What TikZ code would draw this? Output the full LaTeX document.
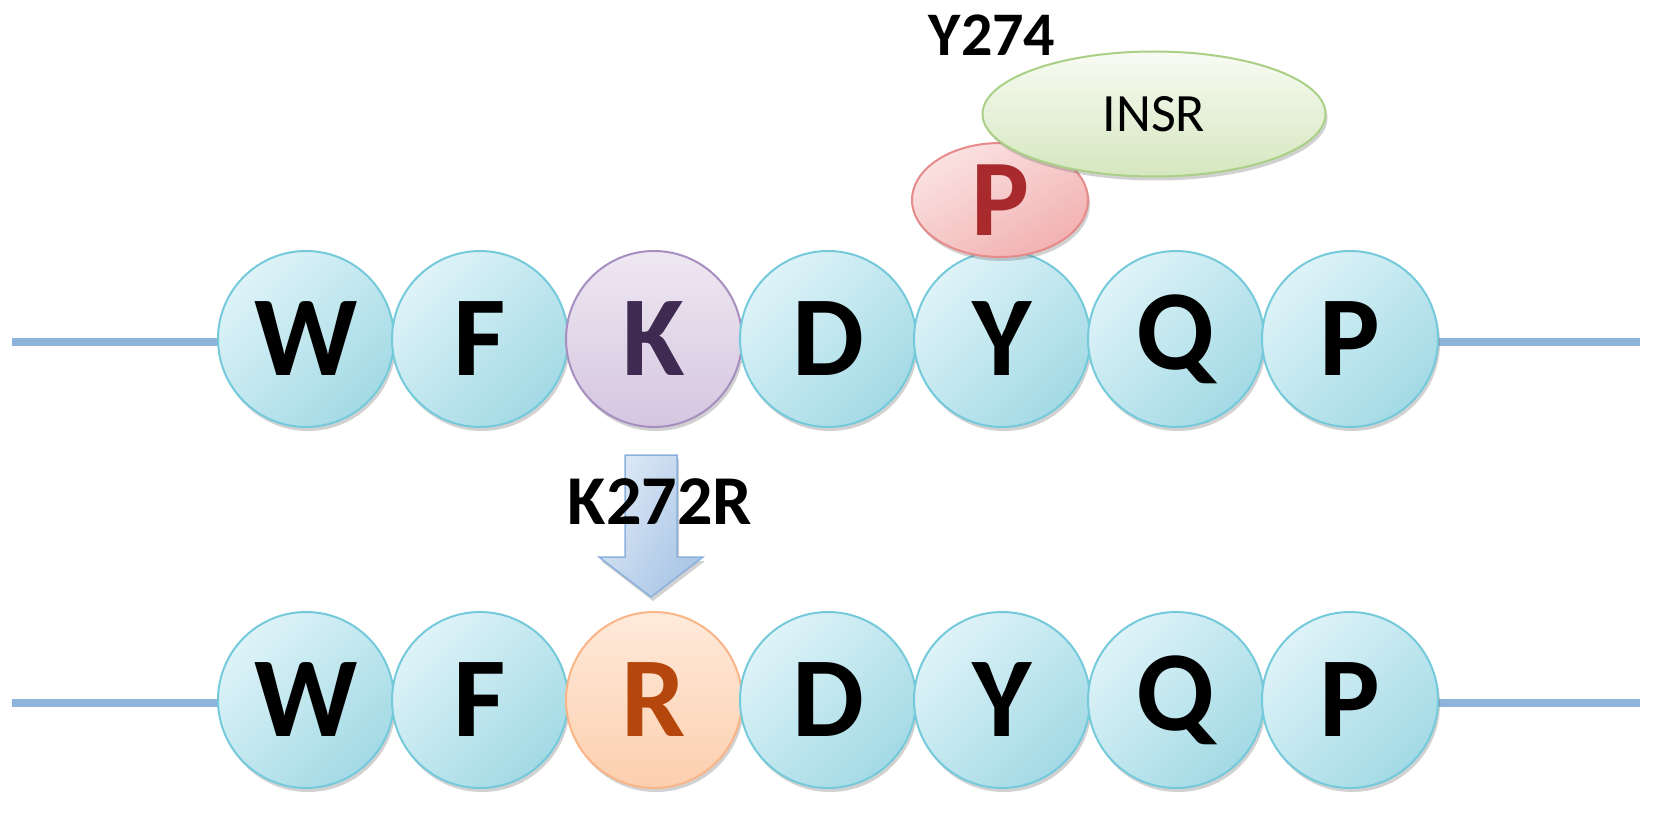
\documentclass[tikz,border=0pt]{standalone}
\usepackage{fontspec}
\setmainfont{Carlito}
\usetikzlibrary{shadows,shapes.geometric}
\definecolor{cyanL}{HTML}{DEF3F8}
\definecolor{cyanD}{HTML}{A3DAE5}
\definecolor{cyanB}{HTML}{74CADB}
\definecolor{purL}{HTML}{EEE8F2}
\definecolor{purD}{HTML}{D5C6E0}
\definecolor{purB}{HTML}{A68EC0}
\definecolor{purT}{HTML}{3F2A52}
\definecolor{orgL}{HTML}{FFEADB}
\definecolor{orgD}{HTML}{FCCFAE}
\definecolor{orgB}{HTML}{F9B487}
\definecolor{orgT}{HTML}{B5470C}
\definecolor{redL}{HTML}{FBE2E2}
\definecolor{redD}{HTML}{F2B1B1}
\definecolor{redB}{HTML}{E68A8A}
\definecolor{redT}{HTML}{A82A2C}
\definecolor{grnL}{HTML}{F8FBF3}
\definecolor{grnD}{HTML}{D5E7BF}
\definecolor{grnB}{HTML}{AACF86}
\definecolor{lineC}{HTML}{8DB4DA}
\definecolor{arrL}{HTML}{DCE8F5}
\definecolor{arrD}{HTML}{A9C5E6}
\definecolor{arrB}{HTML}{8AB1DE}
\newcommand{\aalow}[1]{\raisebox{-5pt}{#1}}
\begin{document}
\begin{tikzpicture}[x=1pt,y=-1pt,
  shadowed/.style={drop shadow={shadow xshift=2pt, shadow yshift=-4pt, opacity=0.3, fill=black!60}},
  aa/.style={circle, minimum size=176pt, inner sep=0pt, line width=2pt,
    draw=cyanB, top color=cyanL, bottom color=cyanD, shading angle=45,
    font=\fontsize{114}{114}\selectfont\bfseries, text=black, shadowed},
  aaK/.style={aa, draw=purB, top color=purL, bottom color=purD, text=purT},
  aaR/.style={aa, draw=orgB, top color=orgL, bottom color=orgD, text=orgT},
  chain/.style={draw=lineC, line width=8pt},
  lbl/.style={font=\fontsize{66}{66}\selectfont\bfseries, text=black, inner sep=0pt}
]
\useasboundingbox (0,0) rectangle (1653,821);

% chain lines
\coordinate (l1a) at (12,342);
\coordinate (l1b) at (1640,342);
\coordinate (l2a) at (12,703);
\coordinate (l2b) at (1640,703);
\draw[chain] (l1a) -- (l1b);
\draw[chain] (l2a) -- (l2b);

% top row
\node[aa]  (tW) at (306,339)   {\aalow{W}};
\node[aa]  (tF) at (480,339)   {\aalow{F}};
\node[aaK] (tK) at (654,339)   {\aalow{K}};
\node[aa]  (tD) at (828,339)   {\aalow{D}};
\node[aa]  (tY) at (1002,339)  {\aalow{Y}};
\node[aa]  (tQ) at (1176,339)  {\aalow{Q}};
\node[aa]  (tP) at (1350,339)  {\aalow{P}};

% bottom row
\node[aa]  (bW) at (306,700)   {\aalow{W}};
\node[aa]  (bF) at (480,700)   {\aalow{F}};
\node[aaR] (bR) at (654,700)   {\aalow{R}};
\node[aa]  (bD) at (828,700)   {\aalow{D}};
\node[aa]  (bY) at (1002,700)  {\aalow{Y}};
\node[aa]  (bQ) at (1176,700)  {\aalow{Q}};
\node[aa]  (bP) at (1350,700)  {\aalow{P}};

% block arrow K -> R
\coordinate (aTop) at (651,455);
\draw[draw=arrB, line width=1.5pt, top color=arrL, bottom color=arrD, shading angle=60, shadowed]
  ([xshift=-26pt]aTop) -- ([xshift=26pt]aTop) -- ([xshift=26pt,yshift=-102pt]aTop)
  -- ([xshift=52pt,yshift=-102pt]aTop) -- ([yshift=-142pt]aTop)
  -- ([xshift=-52pt,yshift=-102pt]aTop) -- ([xshift=-26pt,yshift=-102pt]aTop) -- cycle;
\node[lbl, font=\fontsize{70}{70}\selectfont\bfseries] (k272r) at (660,502) {K272R};

% phosphate
\node[ellipse, minimum width=176pt, minimum height=114pt, inner sep=0pt, line width=2pt,
  draw=redB, top color=redL, bottom color=redD, shading angle=30, shadowed,
  font=\fontsize{109}{109}\selectfont\bfseries, text=redT] (phos) at (1000,200) {\raisebox{-5pt}{P}};

% INSR
\node[ellipse, minimum width=343pt, minimum height=125pt, inner sep=0pt, line width=2pt,
  draw=grnB, top color=grnL, bottom color=grnD, shadowed,
  font=\fontsize{54}{54}\selectfont, text=black] (insr) at (1154,114) {\raisebox{-3pt}{INSR}};

\node[lbl, font=\fontsize{62}{62}\selectfont\bfseries] (y274) at (992,35) {Y274};
\end{tikzpicture}
\end{document}
